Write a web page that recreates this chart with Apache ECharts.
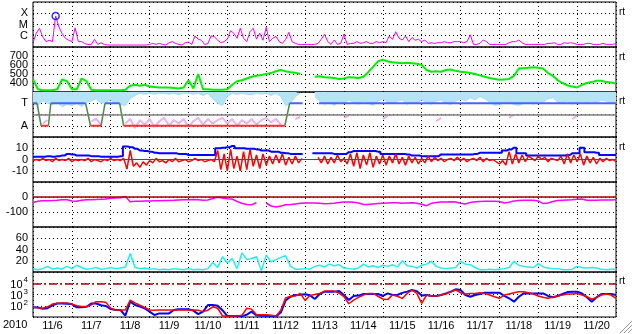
<!DOCTYPE html>
<html><head><meta charset="utf-8">
<script src="https://cdn.jsdelivr.net/npm/echarts@6/dist/echarts.min.js"></script>
<style>html,body{margin:0;padding:0;background:#fff}#c{width:633px;height:334px}</style>
</head><body><div id="c"></div>
<script>
// ---------------- DATA ----------------
const yearLabel = '2010';
const dayLabels = ['11/6','11/7','11/8','11/9','11/10','11/11','11/12','11/13','11/14','11/15','11/16','11/17','11/18','11/19','11/20'];
const xrayClassExp = [-4, -5, -6];
const xrayClassName = ['X', 'M', 'C'];
const taLabelVals = [1, 0];
const taLabelNames = ['T', 'A'];
const sideMark = 'rt';

// X-ray flux (W/m2), 2-hour steps from 11/6 00:00
const xrayFlux = [
2.4e-7,1.7e-6,4.6e-6,8e-7,3e-7,4e-7,3e-7,5.8e-5,6e-6,1.5e-6,
6e-7,4e-7,3e-7,5e-6,3e-7,3e-7,2e-7,1.7e-7,1.7e-7,4.8e-7,
1.7e-7,2.4e-7,1.7e-7,1.5e-7,1.5e-7,1.5e-7,1.5e-7,1.5e-7,1.5e-7,1.5e-7,
1.5e-7,1.5e-7,1.5e-7,1.5e-7,1.5e-7,1.5e-7,1.7e-7,2.1e-7,1.7e-7,2.1e-7,
1.7e-7,1.5e-7,2.4e-7,3e-7,2.1e-7,1.7e-7,1.5e-7,2.4e-7,2.7e-7,1.7e-7,
9.5e-7,5e-7,4e-7,1.7e-7,2e-7,1e-6,8e-7,4.2e-7,2.4e-7,3e-7,
5e-7,2.8e-6,1.7e-6,6e-7,4.6e-6,6e-7,3e-7,2.3e-6,4.6e-6,5e-7,
1.7e-6,4e-7,5.6e-6,3e-7,5.9e-7,9e-7,3e-7,2.1e-7,4.8e-7,2e-6,
3e-7,2.1e-7,1.7e-7,1.7e-7,1.7e-7,1.7e-7,1.7e-7,1.7e-7,2.1e-7,4.8e-7,
1.35e-6,3e-7,1.7e-7,4.2e-7,1.7e-7,2.1e-7,1.35e-6,1.7e-7,2.1e-7,2.1e-7,
3e-7,2.1e-7,2.4e-7,3e-7,2.1e-7,2.1e-7,3e-7,2.4e-7,3e-7,2.4e-7,
9.5e-7,4.8e-7,2.3e-6,5.9e-7,4.2e-7,9.5e-7,3e-7,7e-7,4e-7,4.8e-7,
3e-7,4.2e-7,2.1e-7,2.4e-7,2.1e-7,2.4e-7,2.4e-7,3e-7,2.4e-7,2.4e-7,
3e-7,3e-7,3e-7,2.4e-7,3e-7,1.2e-6,1.7e-7,1.7e-7,2.1e-7,4.2e-7,
3e-7,1.7e-7,1.7e-7,1.7e-7,1.7e-7,1.7e-7,1.7e-7,2.4e-7,3e-7,3e-7,
4.2e-7,2.4e-7,1.7e-7,1.7e-7,1.7e-7,1.7e-7,1.7e-7,1.7e-7,1.7e-7,2.1e-7,
2.1e-7,2.4e-7,1.7e-7,1.7e-7,2.4e-7,2.1e-7,2.4e-7,2.1e-7,1.7e-7,1.7e-7,
1.7e-7,2.1e-7,2.1e-7,1.7e-7,1.7e-7,1.7e-7,2.1e-7,1.7e-7,1.7e-7,1.7e-7,
2.1e-7];

// Solar wind speed (km/s), 3-hour steps
const windSpeed = [
440,330,320,320,320,330,440,420,330,330,
450,420,325,320,320,320,320,320,320,325,
370,380,370,380,360,355,350,350,350,345,
340,350,430,340,500,330,330,325,325,325,
330,380,420,430,450,470,480,490,500,510,
530,545,530,520,515,500,null,null,470,475,
465,460,455,445,450,465,460,455,470,520,
580,640,660,640,630,625,620,625,620,615,
600,545,525,530,525,545,550,535,525,520,
510,500,485,470,455,445,435,440,445,480,
560,565,570,575,570,560,510,480,430,400,
375,360,350,380,400,410,425,425,410,405,
395];

// T/A panel: light-blue band lower edge, pink scatter, state line (1=T, 0=A)
const taCyanLow = [
1.0,0.9,1.1,1.0,0.95,1.05,0.85,0.95,0.9,1.0,
0.85,1.05,1.1,1.2,1.0,1.05,1.15,1.0,0.95,0.9,
1.2,1.35,1.44,1.4,1.44,1.4,1.44,1.44,1.4,1.44,
1.38,1.44,1.44,1.4,1.44,1.35,1.44,1.2,1.0,0.9,
1.3,1.44,1.4,1.44,1.4,1.38,1.44,1.4,1.44,1.35,
1.44,1.3,0.9,1.0,1.3,1.44,null,null,1.3,1.1,
0.95,1.05,0.9,1.1,1.0,1.15,1.05,0.95,1.1,1.0,
0.9,1.1,1.2,1.05,1.0,1.1,1.15,0.95,1.05,1.0,
1.15,1.05,0.95,1.1,1.15,1.0,0.95,1.1,1.2,1.1,
1.25,1.15,1.3,1.2,1.05,0.9,0.95,1.0,1.05,0.95,
0.9,1.0,1.05,0.95,1.1,1.05,1.2,1.25,1.05,1.0,
1.1,0.95,1.05,1.1,1.0,1.1,1.05,1.15,1.1,1.0,
1.05];
const taPink = [
null,null,0.1,0.25,null,null,null,null,null,null,
null,null,0.2,0.3,0.05,null,null,null,null,0.1,
0.3,-0.1,0.25,0.05,0.3,-0.05,0.2,0.35,0.0,0.25,
0.1,0.3,-0.05,0.2,0.35,0.05,0.3,0.1,0.25,0.35,
0.1,0.3,0.0,0.25,0.1,0.3,0.05,0.25,0.35,0.15,
0.3,0.05,null,null,0.3,0.4,null,null,null,null,
null,null,null,null,0.35,0.45,null,null,null,null,
null,null,0.3,0.45,null,null,null,null,null,null,
null,null,null,0.2,0.35,null,null,null,null,null,
null,null,null,null,null,null,null,null,0.35,0.5,
null,null,null,null,null,null,null,null,null,null,
null,0.3,0.45,null,null,null,null,null,null,null,
null];
const taHours = [0,2.5,5,9.5,11,32.5,35.5,42,44.5,53.5,56,155.5,158.5,166.5,171,176.5,360];
const taState = [1,1,0,0,1,1,0,0,1,1,0,0,1,1,null,1,1];

// IMF |B| (3-hour) and Bz (2-hour), nT
const imfBt = [
2.5,2.5,2.5,3,2.5,3,3.5,5,4.5,3.5,
3.5,3.5,3,3,2.5,2.5,2.5,2.5,3,11.5,
11,9.5,8,7.5,7,6,5.5,5.5,5.5,5.5,
5,5,4,4,4,4,4,4,10,10.5,
11,12,10,10,9.5,9.5,9,8,8,7,
7,6,5.5,5,5,5,null,null,5.5,5.5,
5.5,5.5,5,5,5,6.5,7.5,7.5,7.5,7.5,
7.5,7,5,5,5,5,5,4.5,3.5,3.5,
3,3,3,3,4.5,4.5,4.5,4.5,4.5,4.5,
4.5,5,6,6,6,6,6,8,9,10.5,
5.5,5.5,3.5,3.5,3.5,3.5,3.5,3.5,3.5,3.5,
4,5.5,5.5,10.5,6.5,6.5,6,4,4,4,
4];
const imfBz = [
-1,0,-1,1,-1,0,-2,1,-1,0,
-1,1,-2,0,-1,0,-1,1,-2,0,
-1,-2,0,-1,1,-1,0,-1,1,-8.5,
8,-6,-3,-7,-2,-5,-1,-3,1,-2,
-1,-3,0,-2,1,-2,-1,0,-2,-1,
1,-1,0,-2,-1,0,-2,8,-9,5,
-10,9,-8,3,-10,7,-9,9,-6,4,
-8,5,-5,3,-4,4,-3,5,-5,2,
-4,3,-3,1,null,null,null,null,2,-3,
3,-4,2,-3,4,-2,1,-4,5,-6,
6,-8,4,-5,6,-7,3,-4,4,-5,
3,-3,5,-4,2,-5,3,-3,2,-4,
1,-3,3,-2,2,-1,1,-2,0,1,
-1,2,-1,1,-2,0,1,-1,2,-2,
1,-1,0,-2,-4,-1,-5,7,-4,5,
-3,4,-2,3,1,-1,3,0,2,-2,
1,0,-1,3,-4,5,-3,4,-2,5,
-5,3,-3,2,-4,1,-2,1,-1,0,
-2];

// Dst (nT), 3-hour
const dst = [
-36,-28,-25,-25,-24,-22,-18,-18,-26,-29,
-22,-18,-18,-16,-15,-14,-8,-6,-5,3,
-31,-28,-28,-27,-26,-25,-25,-24,-23,-22,
-20,-18,-18,-17,-18,-22,-20,-10,-2,-6,
-12,-14,-30,-42,-50,-52,-38,null,-40,-60,
-66,-60,-52,-50,-46,-42,-40,-40,-40,-42,
-45,-44,-42,-36,-34,-33,-35,-40,-50,-50,
-46,-44,-42,-40,-38,-38,-42,-40,-38,-42,
-48,-58,-42,-36,-33,-33,-32,-33,-42,-47,
-36,-32,-30,-29,-29,-28,-30,-40,-35,-26,
-24,-22,-22,-22,-26,-44,-40,-30,-24,-22,
-20,-18,-15,-14,-22,-22,-21,-20,-20,-20,
-19];

// Geomagnetic activity index, 3-hour
const activity = [
6,4,6,10,5,7,5,10,6,12,
8,5,6,8,5,6,8,6,7,9,
33,8,6,7,5,6,4,5,4,6,
5,4,6,4,5,4,6,17,8,27,
16,24,6,34,22,24,27,2,30,18,
22,26,29,10,5,5,6,5,10,12,
9,14,11,13,7,6,5,7,14,9,
11,8,12,10,13,9,20,11,10,7,
12,14,19,10,7,6,7,8,19,14,
13,8,4,4,5,4,5,6,8,19,
12,10,9,8,15,9,7,6,6,4,
4,5,10,8,7,8,7,5,4,5,
5];

// Electron flux, 3-hour (two satellites)
const fluxBlue = [
72,70,55,60,110,160,160,150,140,72,
72,80,160,160,110,95,50,42,42,13,
230,117,83,59,30,15,21,21,21,42,
48,48,48,37,18,30,117,117,100,40,
12,12,12,12,16,30,14,13,13,12,
11,25,300,630,900,950,1070,850,400,1100,
1800,1800,1800,2000,900,320,740,800,1100,1100,
1100,1100,740,1250,900,900,1400,1800,2500,2000,
800,900,740,740,900,1250,1780,2900,2500,900,
630,900,1100,1450,1450,1450,1450,740,460,230,
630,1250,1250,1250,1250,1250,740,560,740,1100,
1650,1780,1780,1250,560,230,560,1100,1100,1100,
900];
const fluxRed = [
72,65,60,80,140,170,180,180,140,100,
85,85,120,230,230,200,60,42,42,42,
320,180,110,70,42,40,42,42,42,42,
42,42,42,42,40,30,40,80,60,13,
11,12,12,14,60,50,16,16,16,14,
12,40,500,700,740,1250,300,800,1000,1250,
2000,2000,2000,1300,650,150,320,560,900,1250,
1250,700,400,350,900,700,450,1250,2500,1250,
165,900,740,740,900,1100,1780,2500,1450,1100,
1250,1250,1450,1250,900,630,460,900,1100,1450,
1780,1780,1450,1100,740,560,460,560,740,900,
1100,1100,1250,900,630,380,560,900,1100,900,
460];
const fluxThreshold = 1e4;

// ---------------- CHART ----------------
const chart = echarts.init(document.getElementById('c'), null, {renderer: 'canvas'});
const L = 33, W = 583, T0 = 2, PH = 45;
const FONT = 'Liberation Sans, Arial, sans-serif';
const dotted = {show: true, lineStyle: {color: '#000', width: 1, type: [1, 3]}};
const lab = (o) => Object.assign({fontFamily: FONT, fontSize: 11, color: '#000', margin: 5}, o);

const grids = [];
for (let i = 0; i < 7; i++) grids.push({left: L, width: W, top: T0 + PH * i, height: PH, show: true, borderColor: '#000', borderWidth: 1});

const xAxes = [];
for (let i = 0; i < 7; i++) xAxes.push({type: 'value', gridIndex: i, min: 0, max: 360, interval: 24,
  axisLabel: {show: false}, axisTick: {show: false}, axisLine: {show: false}, splitLine: dotted});
xAxes.push({type: 'value', gridIndex: 6, min: 0, max: 360, interval: 12, position: 'bottom',
  axisTick: {show: false}, axisLine: {show: false}, splitLine: {show: false},
  axisLabel: lab({margin: 3, formatter: v => (v % 24 === 12) ? dayLabels[(v - 12) / 24] : ''})});

const base = (i) => ({gridIndex: i, axisTick: {show: false}, axisLine: {show: false}, splitLine: dotted});
const yAxes = [
  Object.assign(base(0), {type: 'log', logBase: 10, min: 1e-7, max: 1e-3,
    axisLabel: lab({formatter: v => { const k = xrayClassExp.indexOf(Math.round(Math.log10(v))); return k >= 0 ? xrayClassName[k] : ''; }})}),
  Object.assign(base(1), {type: 'value', min: 300, max: 800, interval: 100,
    axisLabel: lab({formatter: v => (v >= 400 && v <= 700) ? String(v) : ''})}),
  Object.assign(base(2), {type: 'value', min: -0.5, max: 1.5, interval: 0.5,
    axisLabel: lab({formatter: v => { const k = taLabelVals.indexOf(v); return k >= 0 ? taLabelNames[k] : ''; }})}),
  Object.assign(base(3), {type: 'value', min: -20, max: 20, interval: 10,
    axisLabel: lab({formatter: v => Math.abs(v) <= 10 ? String(v) : ''})}),
  Object.assign(base(4), {type: 'value', min: -200, max: 100, interval: 100,
    axisLabel: lab({formatter: v => (v === 0 || v === -100) ? String(v) : ''})}),
  Object.assign(base(5), {type: 'value', min: 0, max: 80, interval: 20,
    axisLabel: lab({formatter: v => (v >= 20 && v <= 60) ? String(v) : ''})}),
  Object.assign(base(6), {type: 'log', logBase: 10, min: 10, max: 1e5,
    axisLabel: lab({formatter: v => { const e = Math.round(Math.log10(v)); return (e >= 2 && e <= 4) ? '{b|10}{s|' + e + '}' : ''; },
      rich: {b: {fontFamily: FONT, fontSize: 11, color: '#000', verticalAlign: 'bottom', lineHeight: 14},
             s: {fontFamily: FONT, fontSize: 8, color: '#000', verticalAlign: 'top', lineHeight: 14, padding: [0, 0, 0, 1]}}})})
];

const h2 = arr => arr.map((v, i) => [i * 2, v == null ? '-' : v]);
const h3 = arr => arr.map((v, i) => [i * 3, v == null ? '-' : v]);
const line = (xi, data, color, width, extra) => Object.assign({type: 'line', xAxisIndex: xi, yAxisIndex: xi, data: data,
  showSymbol: false, symbol: 'none', animation: false, lineStyle: {color: color, width: width}, itemStyle: {color: color}}, extra || {});

function taSeg(kind) {
  const out = [];
  for (let k = 0; k < taHours.length - 1; k++) {
    const a = taState[k], b = taState[k + 1];
    if (a == null || b == null) continue;
    const c = a !== b ? 'X' : (a === 1 ? 'T' : 'A');
    if (c === kind) { out.push([taHours[k], a], [taHours[k + 1], b], [taHours[k + 1], '-']); }
  }
  return out;
}

let pk = 0; xrayFlux.forEach((v, i) => { if (v > xrayFlux[pk]) pk = i; });
const noLbl = {show: false};

const series = [
  line(0, h2(xrayFlux), '#ff00ff', 1),
  {type: 'scatter', xAxisIndex: 0, yAxisIndex: 0, data: [[pk * 2, xrayFlux[pk]]], symbol: 'circle', symbolSize: 7,
    itemStyle: {color: 'rgba(0,0,0,0)', borderColor: '#0000ff', borderWidth: 1.5}, animation: false, z: 5},
  line(1, h3(windSpeed), '#00ee00', 2),
  line(2, h3(taCyanLow), '#a6dcf4', 1, {areaStyle: {origin: 'end', color: '#b4e4f8', opacity: 1}}),
  line(2, h3(taPink), '#f0b0f0', 2),
  line(2, taSeg('X'), '#4a8a4a', 1.5, {markLine: {silent: true, symbol: 'none', label: noLbl, animation: false,
    lineStyle: {color: '#808080', width: 1.5, type: 'solid'}, data: [{yAxis: 0.5}]}}),
  line(2, taSeg('T'), '#4466ff', 2),
  line(2, taSeg('A'), '#ff3030', 2),
  line(3, h3(imfBt), '#0000ff', 2, {step: 'middle'}),
  line(3, h2(imfBz), '#ff0000', 1.5, {markLine: {silent: true, symbol: 'none', label: noLbl, animation: false,
    lineStyle: {color: '#ff0000', width: 1, type: 'solid'}, data: [{yAxis: 0}]}}),
  line(4, h3(dst), '#ff00ff', 1.5, {markLine: {silent: true, symbol: 'none', label: noLbl, animation: false,
    lineStyle: {color: '#a00000', width: 1.5, type: 'solid'}, data: [{yAxis: 0}]}}),
  line(5, h3(activity), '#22eeee', 1.5),
  line(6, h3(fluxBlue), '#0000ff', 2, {markLine: {silent: true, symbol: 'none', label: noLbl, animation: false,
    lineStyle: {color: '#b00000', width: 1.5, type: [8, 3, 2, 3]}, data: [{yAxis: fluxThreshold}]}}),
  line(6, h3(fluxRed), '#ff0000', 1.5)
];

const sideY = [12, 57, 101, 147, 281];
const graphic = [
  {type: 'text', left: 3, top: 319, style: {text: yearLabel, font: '11px ' + FONT, fill: '#000'}},
];
sideY.forEach(y => graphic.push({type: 'text', x: 619, y: y, style: {text: sideMark, font: '10px ' + FONT, fill: '#000', textVerticalAlign: 'middle'}}));
[[620, 333, 632, 321], [624, 333, 632, 325], [628, 333, 632, 329]].forEach(s =>
  graphic.push({type: 'line', shape: {x1: s[0], y1: s[1], x2: s[2], y2: s[3]}, style: {stroke: '#999', lineWidth: 1}}));

chart.setOption({
  animation: false,
  backgroundColor: '#fff',
  grid: grids, xAxis: xAxes, yAxis: yAxes, series: series, graphic: graphic
});
</script>
</body></html>
